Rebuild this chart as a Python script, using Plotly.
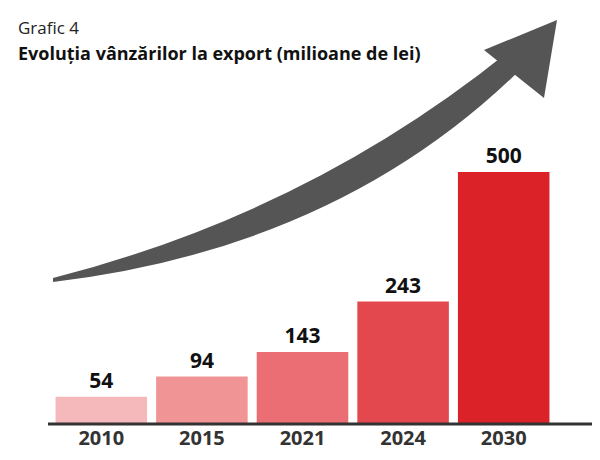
import plotly.graph_objects as go

years = ["2010", "2015", "2021", "2024", "2030"]
values = [54, 94, 143, 243, 500]
colors = ["#f6b9bb", "#f09496", "#ea6e73", "#e4484f", "#dc2229"]

W, H = 600, 460
L, R, T, B = 43, 54, 60, 44
pw, ph = W - L - R, H - T - B

def px(x, y):
    return (x - L) / pw, (H - B - y) / ph

def path(cmds):
    out = []
    for c in cmds:
        if isinstance(c, str):
            out.append(c)
        else:
            x, y = px(*c)
            out.append(f"{x:.4f},{y:.4f}")
    return " ".join(out)

fig = go.Figure(go.Bar(
    x=years, y=values, marker=dict(color=colors, line=dict(width=0)),
    text=values, textposition="outside", cliponaxis=False,
    textfont=dict(family="Open Sans", size=21, color="#111"),
    texttemplate="<b>%{text}</b>",
))

body = path(["M", (45, 274), "Q", (330, 240), (512, 62), "L", (500, 44), "Q", (300, 205), (45, 270), "Z"])
head = path(["M", (549, 12), "L", (536, 90), "L", (476, 42), "Z"])
shapes = [
    dict(type="path", xref="paper", yref="paper", path=body, fillcolor="#555", line=dict(width=0), layer="above"),
    dict(type="path", xref="paper", yref="paper", path=head, fillcolor="#555", line=dict(width=0), layer="above"),
    dict(type="line", xref="paper", yref="paper", x0=px(40, 0)[0], x1=px(585, 0)[0], y0=0, y1=0,
         line=dict(color="#333", width=3)),
]

fig.update_layout(
    width=W, height=H, margin=dict(l=L, r=R, t=T, b=B),
    plot_bgcolor="white", paper_bgcolor="white", bargap=0.09,
    showlegend=False, shapes=shapes,
    xaxis=dict(showline=False, ticks="", tickfont=dict(family="Open Sans", size=20, color="#333"),
               tickprefix="<b>", ticksuffix="</b>"),
    yaxis=dict(range=[0, 500 * ph / 252], visible=False),
    annotations=[
        dict(text="Grafic 4", xref="paper", yref="paper", x=px(8, 0)[0], y=px(0, 19)[1],
             xanchor="left", yanchor="middle", showarrow=False,
             font=dict(family="Open Sans", size=17, color="#222")),
        dict(text="<b>Evoluția vânzărilor la export (milioane de lei)</b>", xref="paper", yref="paper",
             x=px(8, 0)[0], y=px(0, 45)[1], xanchor="left", yanchor="middle", showarrow=False,
             font=dict(family="Open Sans", size=18, color="#111")),
    ],
)
fig.write_html("out.html")
